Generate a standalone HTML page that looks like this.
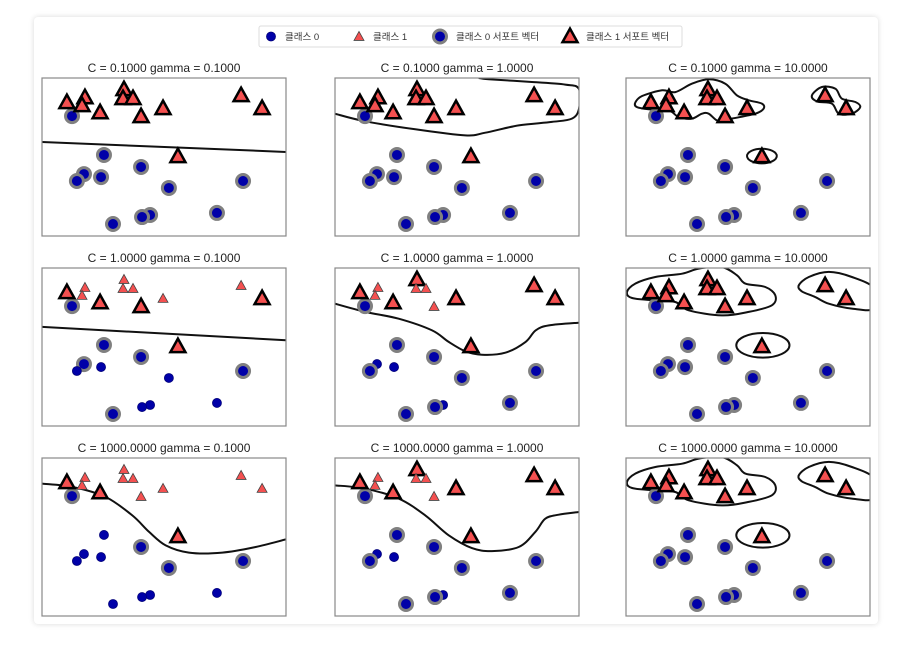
<!DOCTYPE html>
<html><head><meta charset="utf-8">
<style>
html,body{margin:0;padding:0;background:#fff;}
body{width:900px;height:658px;position:relative;overflow:hidden;font-family:"Liberation Sans","Noto Sans CJK KR",sans-serif;}
#card{position:absolute;left:34px;top:17px;width:844px;height:607px;border-radius:4px;box-shadow:0 0 6px rgba(0,0,0,0.15);background:#fff;}
svg{position:absolute;left:0;top:0;}
</style></head>
<body>
<div id="card"></div>
<svg id="chart" width="900" height="658"></svg>
<script>
// data (fractional x/y in [0,1] of each axes, y down)
const blueX=[0.254,0.172,0.143,0.242,0.406,0.520,0.824,0.717,0.443,0.410,0.291,0.123];
const blueY=[0.487,0.608,0.652,0.627,0.563,0.696,0.652,0.854,0.867,0.880,0.924,0.241];
const redX=[0.102,0.176,0.164,0.238,0.336,0.332,0.373,0.406,0.496,0.816,0.902,0.557];
const redY=[0.158,0.127,0.177,0.222,0.076,0.133,0.133,0.247,0.196,0.114,0.196,0.500];
const Cvals=["0.1000","1.0000","1000.0000"];
const gammaVals=["0.1000","1.0000","10.0000"];
// support-vector flags per panel [row][col]
const blueSV=[
 [[1,1,1,1,1,1,1,1,1,1,1,1],[1,1,1,1,1,1,1,1,1,1,1,1],[1,1,1,1,1,1,1,1,1,1,1,1]],
 [[1,1,0,0,1,0,1,0,0,0,1,1],[1,0,1,0,1,1,1,1,0,1,1,1],[1,1,1,1,1,1,1,1,1,1,1,1]],
 [[0,0,0,0,1,1,1,0,0,0,0,1],[1,0,1,0,1,1,1,1,0,1,1,1],[1,1,1,1,1,1,1,1,1,1,1,1]]];
const redSV=[
 [[1,1,1,1,1,1,1,1,1,1,1,1],[1,1,1,1,1,1,1,1,1,1,1,1],[1,1,1,1,1,1,1,1,1,1,1,1]],
 [[1,0,0,1,0,0,0,1,0,0,1,1],[1,0,0,1,1,0,0,0,1,1,1,1],[1,1,1,1,1,1,1,1,1,1,1,1]],
 [[1,0,0,1,0,0,0,0,0,0,0,1],[1,0,0,1,1,0,0,0,1,1,1,1],[1,1,1,1,1,1,1,1,1,1,1,1]]];
// decision boundaries (fractional coordinates)
const bnd00=[[0,0.405],[1,0.468]];
const bnd10=[[0,0.373],[1,0.457]];
const bnd01=[[0,0.226],[0.124,0.274],[0.329,0.325],[0.534,0.363],[0.616,0.346],[0.753,0.3],[0.889,0.278],[0.971,0.257],[1.0,0.194],[0.999,0.068],[0.944,0.042],[0.807,0.025],[0.63,0.008],[0.589,0]];
const bnd11=[[0,0.226],[0.124,0.278],[0.261,0.321],[0.398,0.395],[0.466,0.468],[0.534,0.527],[0.602,0.549],[0.698,0.536],[0.781,0.468],[0.822,0.395],[0.877,0.363],[1,0.346]];
const bnd20=[[0,0.162],[0.128,0.184],[0.261,0.247],[0.37,0.363],[0.439,0.468],[0.507,0.553],[0.602,0.599],[0.739,0.599],[0.876,0.563],[1,0.515]];
const bnd21=[[0,0.173],[0.124,0.194],[0.261,0.257],[0.37,0.363],[0.466,0.489],[0.561,0.57],[0.643,0.589],[0.753,0.563],[0.821,0.468],[0.862,0.384],[0.917,0.359],[1,0.342]];
const blobA0=[[0.038,0.156],[0.066,0.114],[0.148,0.078],[0.202,0.089],[0.270,0.036],[0.339,0.008],[0.407,0.036],[0.455,0.11],[0.503,0.141],[0.557,0.162],[0.564,0.194],[0.53,0.226],[0.434,0.257],[0.380,0.274],[0.339,0.226],[0.311,0.226],[0.27,0.257],[0.216,0.247],[0.175,0.205],[0.093,0.198],[0.045,0.184]];
const blobB0=[[0.762,0.110],[0.803,0.057],[0.858,0.068],[0.885,0.131],[0.940,0.152],[0.96,0.184],[0.926,0.226],[0.872,0.226],[0.844,0.162],[0.783,0.148]];
const blobA1=[[0.004,0.152],[0.038,0.099],[0.12,0.057],[0.23,0.036],[0.298,0.004],[0.393,-0.006],[0.455,0.046],[0.489,0.099],[0.571,0.12],[0.612,0.173],[0.598,0.236],[0.503,0.278],[0.393,0.300],[0.257,0.268],[0.202,0.215],[0.12,0.205],[0.025,0.19]];
const blobB1=[[0.708,0.110],[0.749,0.057],[0.831,0.025],[0.926,0.057],[1.02,0.131],[1.02,0.257],[0.926,0.257],[0.831,0.226],[0.776,0.184],[0.721,0.148]];
const ellC0=[0.557,0.494,0.061,0.046];
const ellC1=[0.561,0.489,0.109,0.078];

const NS="http://www.w3.org/2000/svg";
const svg=document.getElementById('chart');
function mk(tag,attrs,parent){const e=document.createElementNS(NS,tag);for(const k in attrs)e.setAttribute(k,attrs[k]);(parent||svg).appendChild(e);return e;}
const colX=[42,335,626], rowY=[78,268,458], W=244, H=158;

function smoothPath(pts,sx,sy,closed){
  const P=pts.map(p=>[sx(p[0]),sy(p[1])]);
  if(P.length===2) return `M${P[0][0]},${P[0][1]}L${P[1][0]},${P[1][1]}`;
  const n=P.length; let d=`M${P[0][0]},${P[0][1]}`;
  const get=i=>closed?P[(i+n)%n]:P[Math.max(0,Math.min(n-1,i))];
  const segs=closed?n:n-1;
  for(let i=0;i<segs;i++){
    const p0=get(i-1),p1=get(i),p2=get(i+1),p3=get(i+2);
    const c1=[p1[0]+(p2[0]-p0[0])/6,p1[1]+(p2[1]-p0[1])/6];
    const c2=[p2[0]-(p3[0]-p1[0])/6,p2[1]-(p3[1]-p1[1])/6];
    d+=`C${c1[0].toFixed(1)},${c1[1].toFixed(1)} ${c2[0].toFixed(1)},${c2[1].toFixed(1)} ${p2[0].toFixed(1)},${p2[1].toFixed(1)}`;
  }
  return d+(closed?'Z':'');
}
function tri(cx,cy,s){const h=s*0.9;return `${cx},${cy-h*0.62} ${cx-s/2},${cy+h*0.38} ${cx+s/2},${cy+h*0.38}`;}

for(let r=0;r<3;r++)for(let c=0;c<3;c++){
  const x0=colX[c],y0=rowY[r];
  const sx=v=>x0+v*W, sy=v=>y0+v*H;
  const g=mk('g',{});
  
  
  const t=mk('text',{x:x0+W/2,y:y0-6,'text-anchor':'middle','font-size':'12',fill:'#222'},g);
  t.textContent=`C = ${Cvals[r]} gamma = ${gammaVals[c]}`;
  
  
  const cid='clip'+r+c;
  const cp=mk('clipPath',{id:cid},g); mk('rect',{x:x0,y:y0,width:W,height:H},cp);
  const bg=mk('g',{'clip-path':`url(#${cid})`},g);
  
  
  const st={fill:'none',stroke:'#111','stroke-width':2};
  const key=''+r+c;
  const open={ '00':bnd00,'10':bnd10,'01':bnd01,'11':bnd11,'20':bnd20,'21':bnd21 };
  if(open[key]) mk('path',Object.assign({d:smoothPath(open[key],sx,sy,false)},st),bg);
  else{
    const A=r===0?blobA0:blobA1,B=r===0?blobB0:blobB1,E=r===0?ellC0:ellC1;
    mk('path',Object.assign({d:smoothPath(A,sx,sy,true)},st),bg);
    mk('path',Object.assign({d:smoothPath(B,sx,sy,true)},st),bg);
    mk('ellipse',Object.assign({cx:sx(E[0]),cy:sy(E[1]),rx:E[2]*W,ry:E[3]*H},st),bg);
  }
  mk('rect',{x:x0,y:y0,width:W,height:H,fill:'none',stroke:'#888','stroke-width':1.2},g);
  // points
  for(let i=0;i<blueX.length;i++){
    const sv=blueSV[r][c][i];
    const e=mk('circle',{cx:sx(blueX[i]),cy:sy(blueY[i]),r:sv?6.5:4.5,fill:'#0000a8',stroke:sv?'#808080':'#00007a','stroke-width':sv?3:0.8},g);
    
    
  }
  for(let i=0;i<redX.length;i++){
    const sv=redSV[r][c][i];
    const e=mk('polygon',{points:tri(sx(redX[i]),sy(redY[i]),sv?15:10),fill:'#f45050',stroke:sv?'#000':'#444','stroke-width':sv?2.5:0.8,'stroke-linejoin':'miter'},g);
    
    
  }
}
// legend
const lg=mk('g',{});


mk('rect',{x:259,y:26,width:423,height:21,fill:'#fff',stroke:'#ddd','stroke-width':1,rx:2},lg);
const items=[["클래스 0",'c',0,271],["클래스 1",'t',0,359],["클래스 0 서포트 벡터",'c',1,440],["클래스 1 서포트 벡터",'t',1,570]];
items.forEach(it=>{
  const g=mk('g',{},lg);
  
  
  if(it[1]==='c') mk('circle',{cx:it[3],cy:36.5,r:it[2]?6.5:4.5,fill:'#0000a8',stroke:it[2]?'#808080':'#00007a','stroke-width':it[2]?3:0.8},g);
  else mk('polygon',{points:tri(it[3],37,it[2]?15:10),fill:'#f45050',stroke:it[2]?'#000':'#444','stroke-width':it[2]?2.5:0.8},g);
  const t=mk('text',{x:it[3]+(it[2]?16:14),y:40,'font-size':'9.5',fill:'#333'},g);
  t.textContent=it[0];
});
</script>
</body></html>
